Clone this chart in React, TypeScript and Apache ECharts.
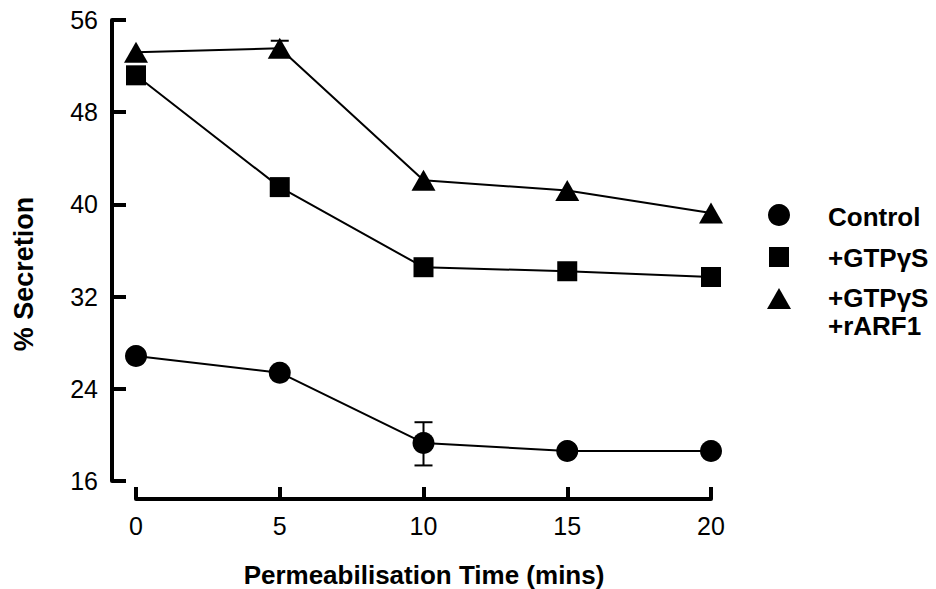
import React, { useEffect, useRef } from "react";
import * as echarts from "echarts";

// Permeabilisation time points (mins)
const times = [0, 5, 10, 15, 20];

// % secretion for each condition
const controlValues = [26.85, 25.4, 19.3, 18.6, 18.6];
const gtpValues = [51.2, 41.5, 34.55, 34.2, 33.7];
const arfValues = [53.2, 53.55, 42.1, 41.2, 39.25];

// Error bars: [time, low, high]
const controlErrors = [[10, 17.35, 21.1]];
const arfErrors = [[5, 52.95, 54.2]];

const yTicks = { min: 16, max: 56, interval: 8 };
const xTicks = { min: 0, max: 20, interval: 5 };

const seriesNames = ["Control", "+GTPγS", "+GTPγS +rARF1"];

const FONT = "'Liberation Sans', Arial, Helvetica, sans-serif";

function pairs(values: number[]) {
  return times.map((t, i) => [t, values[i]]);
}

function errorBarSeries(data: number[][]) {
  return {
    type: "custom",
    silent: true,
    z: 1,
    data,
    renderItem: (_params: any, api: any) => {
      const x = api.value(0);
      const low = api.coord([x, api.value(1)]);
      const high = api.coord([x, api.value(2)]);
      const half = 9;
      const style = { stroke: "#000", lineWidth: 2 };
      return {
        type: "group",
        children: [
          { type: "line", shape: { x1: low[0], y1: low[1], x2: high[0], y2: high[1] }, style },
          { type: "line", shape: { x1: low[0] - half, y1: low[1], x2: low[0] + half, y2: low[1] }, style },
          { type: "line", shape: { x1: high[0] - half, y1: high[1], x2: high[0] + half, y2: high[1] }, style },
        ],
      };
    },
  };
}

export default function App() {
  const ref = useRef<HTMLDivElement>(null);

  useEffect(() => {
    if (!ref.current) return;
    const chart = echarts.init(ref.current, null, { renderer: "svg" });

    const lineSeries = (name: string, values: number[], symbol: string, size: any) => ({
      name,
      type: "line",
      data: pairs(values),
      symbol,
      symbolSize: size,
      z: 3,
      itemStyle: { color: "#000" },
      lineStyle: { color: "#000", width: 2 },
    });

    const legendText = (text: string, x: number, y: number) => ({
      type: "text",
      left: x,
      top: y,
      style: { text, font: `bold 26px ${FONT}`, fill: "#000" },
    });

    const axisLineStyle = { color: "#000", width: 4 };

    chart.setOption({
      animation: false,
      backgroundColor: "#fff",
      grid: [
        // data area
        { left: 136, right: 225, top: 20, bottom: 108 },
        // detached vertical axis, drawn to the left of the data area
        { left: 112, width: 1, top: 20, bottom: 108 },
      ],
      xAxis: [
        {
          type: "value",
          gridIndex: 0,
          ...xTicks,
          offset: 18,
          axisLine: { onZero: false, lineStyle: axisLineStyle },
          axisTick: { inside: true, length: 12, lineStyle: axisLineStyle },
          axisLabel: { color: "#000", fontSize: 25, fontFamily: FONT, margin: 14 },
          splitLine: { show: false },
        },
        { type: "value", gridIndex: 1, min: 0, max: 1, show: false },
      ],
      yAxis: [
        { type: "value", gridIndex: 0, ...yTicks, show: false },
        {
          type: "value",
          gridIndex: 1,
          ...yTicks,
          position: "left",
          axisLine: { show: true, onZero: false, lineStyle: axisLineStyle },
          axisTick: { show: true, inside: true, length: 14, lineStyle: axisLineStyle },
          axisLabel: { color: "#000", fontSize: 25, fontFamily: FONT, margin: 14 },
          splitLine: { show: false },
        },
      ],
      series: [
        lineSeries(seriesNames[0], controlValues, "circle", 22),
        lineSeries(seriesNames[1], gtpValues, "rect", 20),
        lineSeries(seriesNames[2], arfValues, "triangle", [24, 21]),
        errorBarSeries(controlErrors),
        errorBarSeries(arfErrors),
      ],
      graphic: [
        {
          type: "text",
          x: 24,
          y: 274,
          rotation: Math.PI / 2,
          style: {
            text: "% Secretion",
            font: `bold 27px ${FONT}`,
            fill: "#000",
            align: "center",
            verticalAlign: "middle",
          },
        },
        {
          type: "text",
          x: 424,
          y: 575,
          style: {
            text: "Permeabilisation Time (mins)",
            font: `bold 26px ${FONT}`,
            fill: "#000",
            align: "center",
            verticalAlign: "middle",
          },
        },
        { type: "circle", shape: { cx: 779, cy: 215, r: 11 }, style: { fill: "#000" } },
        { type: "rect", shape: { x: 769, y: 247, width: 20, height: 20 }, style: { fill: "#000" } },
        {
          type: "polygon",
          shape: { points: [[779, 288], [791, 309], [767, 309]] },
          style: { fill: "#000" },
        },
        legendText("Control", 828, 204),
        legendText("+GTPγS", 828, 245),
        legendText("+GTPγS", 828, 285),
        legendText("+rARF1", 828, 313),
      ],
    });

    return () => chart.dispose();
  }, []);

  return (
    <div
      ref={ref}
      style={{ position: "fixed", left: 0, top: 0, width: 936, height: 589 }}
    />
  );
}
